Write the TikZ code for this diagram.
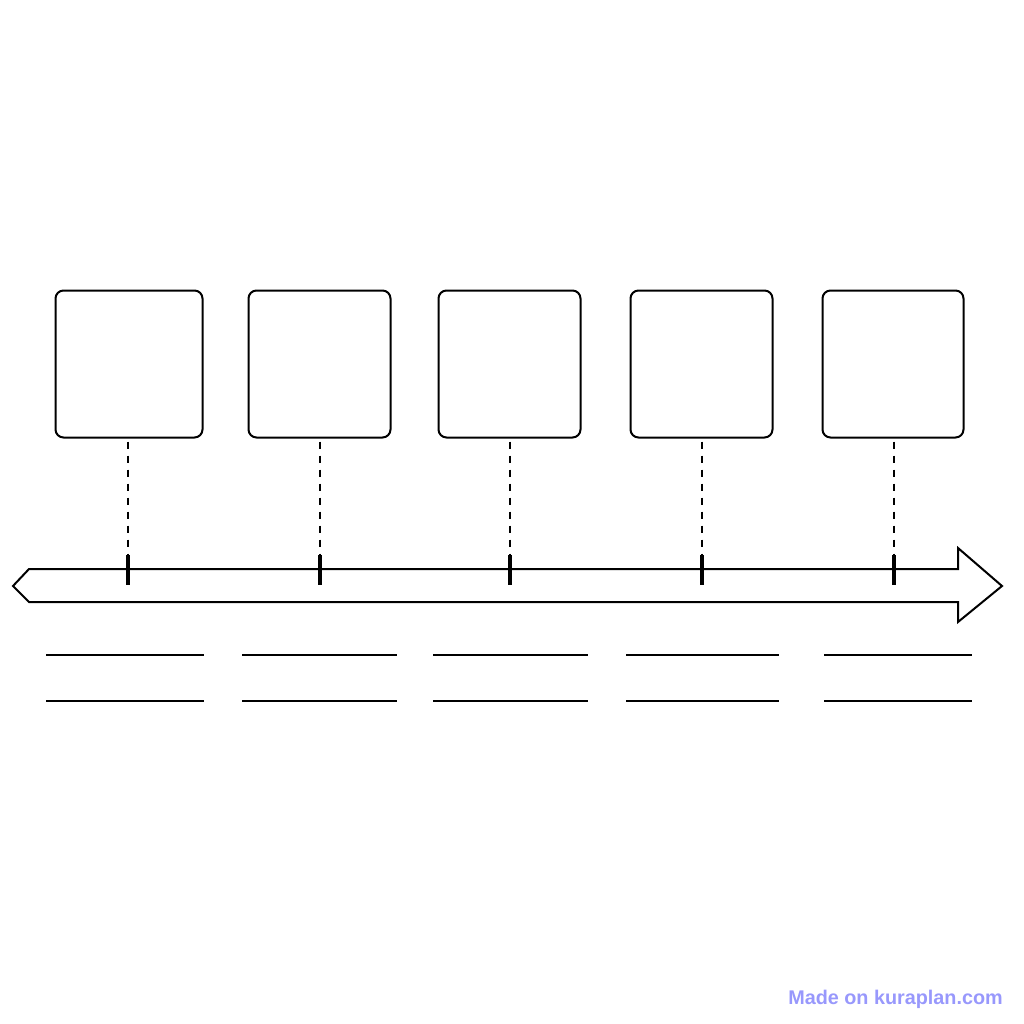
\documentclass[tikz,border=0pt]{standalone}
\usepackage{fontspec}
\setsansfont{Liberation Sans}
\definecolor{wm}{RGB}{152,152,252}
\begin{document}
\begin{tikzpicture}[x=1pt,y=-1pt,
  card/.style={draw=black,line width=2pt,rounded corners=8pt,minimum height=147pt,inner sep=0pt,fill=white},
  link/.style={draw=black,line width=1.8pt,dash pattern=on 7pt off 7pt,dash phase=-3pt},
  tickmark/.style={draw=black,line width=3.2pt},
  blank/.style={draw=black,line width=1.9pt},
  axis/.style={draw=black,line width=2pt,line join=miter}]
\useasboundingbox (0,0) rectangle (1024,1024);
% arrow
\draw[axis] (13,586) -- (29,569) -- (958,569) -- (958,548) -- (1002,586) -- (958,622) -- (958,602) -- (29,602) -- cycle;
% boxes
\foreach \n/\cx/\w/\tx in {1/129/147/128,2/319.5/142/320,3/509.5/142/510,4/701.5/142/702,5/893/141/894}{
  \node[card,minimum width=\w pt] (b\n) at (\cx,364) {};
  \coordinate (u\n) at (\tx,585);
  \coordinate (d\n) at (\tx,555);
  \draw[link] (b\n.south -| d\n) -- (d\n);
  \draw[tickmark] (d\n) -- (u\n);
}
% blank lines
\foreach \n/\a/\b in {1/46/204,2/242/397,3/433/588,4/626/779,5/824/972}{
  \coordinate (la\n) at (\a,655); \coordinate (lb\n) at (\b,655);
  \coordinate (ma\n) at (\a,701); \coordinate (mb\n) at (\b,701);
  \draw[blank] (la\n) -- (lb\n);
  \draw[blank] (ma\n) -- (mb\n);
}
\node[anchor=east,inner sep=0pt,text=wm,font=\sffamily\bfseries\fontsize{19.8}{22}\selectfont] (wm) at (1003,999) {Made on kuraplan.com};
\end{tikzpicture}
\end{document}
